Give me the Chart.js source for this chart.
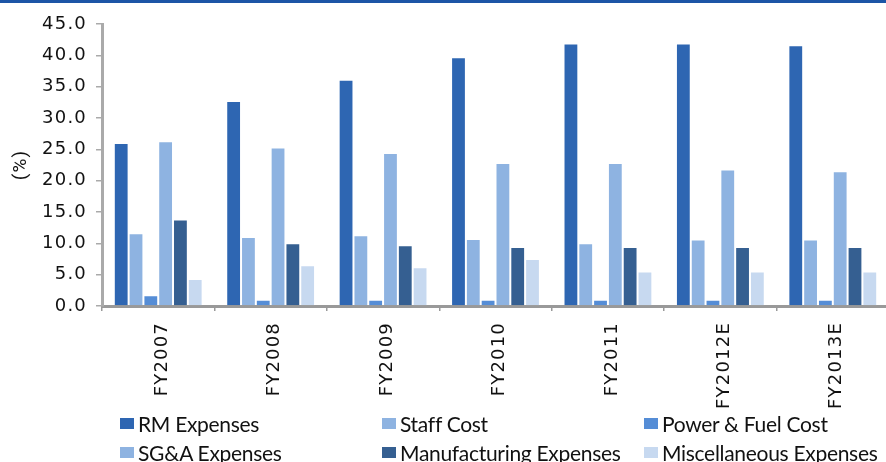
<!DOCTYPE html>
<html>
<head>
<meta charset="utf-8">
<script src="https://cdn.jsdelivr.net/npm/chart.js@4.4.1/dist/chart.umd.min.js"></script>
<style>
  body { margin: 0; background: #fff; overflow: hidden; }
  #wrap { position: relative; width: 886px; height: 462px; overflow: hidden; }
  #topline { position: absolute; left: 0; top: 0; width: 886px; height: 3px; background: #1c55a6; }
  #chart { position: absolute; left: 0; top: 0; }
  #legend {
    position: absolute; left: 120px; top: 409px;
    display: grid; grid-template-columns: 262px 262px 262px; grid-auto-rows: 29px;
    font-family: Lato, sans-serif; font-size: 21px; color: #111; letter-spacing: -0.3px;
  }
  #legend .item { display: flex; align-items: center; white-space: nowrap; }
  #legend .sw { width: 14px; height: 11px; margin-right: 4px; flex: none; }
</style>
</head>
<body>
<div id="wrap">
  <div id="topline"></div>
  <canvas id="chart" width="892" height="462"></canvas>
  <div id="legend"></div>
</div>
<script>
  const categories = ['FY2007', 'FY2008', 'FY2009', 'FY2010', 'FY2011', 'FY2012E', 'FY2013E'];
  const rmExpenses = [26.0, 32.7, 36.1, 39.7, 41.9, 41.9, 41.6];
  const staffCost = [11.6, 11.0, 11.3, 10.7, 10.0, 10.6, 10.6];
  const powerFuelCost = [1.7, 1.0, 1.0, 1.0, 1.0, 1.0, 1.0];
  const sgaExpenses = [26.3, 25.3, 24.4, 22.8, 22.8, 21.8, 21.5];
  const manufacturingExpenses = [13.8, 10.0, 9.7, 9.4, 9.4, 9.4, 9.4];
  const miscExpenses = [4.3, 6.5, 6.2, 7.5, 5.5, 5.5, 5.5];
  const yMin = 0, yMax = 45, yStep = 5;

  const seriesNames = ['RM Expenses', 'Staff Cost', 'Power & Fuel Cost', 'SG&A Expenses', 'Manufacturing Expenses', 'Miscellaneous Expenses'];
  const seriesData = [rmExpenses, staffCost, powerFuelCost, sgaExpenses, manufacturingExpenses, miscExpenses];
  const colors = ['#2e66b2', '#8eb3e1', '#558dd6', '#8eb3e1', '#355f91', '#c7d9f0'];

  // the original's axis text is widely spaced
  const spacedText = {
    id: 'spacedText',
    beforeDraw(chart) { chart.ctx.letterSpacing = '1.2px'; },
    afterDraw(chart) { chart.ctx.letterSpacing = '0px'; }
  };

  const chart = new Chart(document.getElementById('chart'), {
    type: 'bar',
    data: {
      labels: categories,
      datasets: seriesNames.map((name, i) => ({
        label: name,
        data: seriesData[i],
        backgroundColor: colors[i],
        borderColor: 'rgba(255,255,255,0.55)',
        borderWidth: 1,
        categoryPercentage: 0.79,
        barPercentage: 1.0
      }))
    },
    options: {
      responsive: false,
      animation: false,
      layout: { padding: { left: 0, right: 3, top: 24, bottom: 40 } },
      plugins: {
        legend: { display: false },
        tooltip: { enabled: false }
      },
      scales: {
        x: {
          afterFit: (scale) => { scale.height = 116; },
          grid: { display: true, drawOnChartArea: false, tickLength: 5, color: '#999', lineWidth: 1.5 },
          border: { color: '#999', width: 3 },
          ticks: { color: '#111', font: { family: 'DejaVu Sans', size: 18 }, minRotation: 90, maxRotation: 90, padding: 11, labelOffset: 4 }
        },
        y: {
          min: yMin, max: yMax,
          afterFit: (scale) => { scale.width = 102; },
          grid: { display: true, drawOnChartArea: false, tickLength: 6, color: '#aaa', lineWidth: 1.5 },
          border: { color: '#aaa', width: 3 },
          ticks: { stepSize: yStep, color: '#111', font: { family: 'DejaVu Sans', size: 18 }, padding: 9, callback: v => v.toFixed(1) },
          title: { display: true, text: '(%)', color: '#111', font: { family: 'Roboto', size: 19 }, padding: { top: 10, bottom: 0 } }
        }
      }
    },
    plugins: [spacedText]
  });

  // legend laid out as a 3-column grid like the original
  const legend = document.getElementById('legend');
  chart.data.datasets.forEach(ds => {
    const item = document.createElement('div');
    item.className = 'item';
    const sw = document.createElement('span');
    sw.className = 'sw';
    sw.style.background = ds.backgroundColor;
    item.appendChild(sw);
    item.appendChild(document.createTextNode(ds.label));
    legend.appendChild(item);
  });
</script>
</body>
</html>
